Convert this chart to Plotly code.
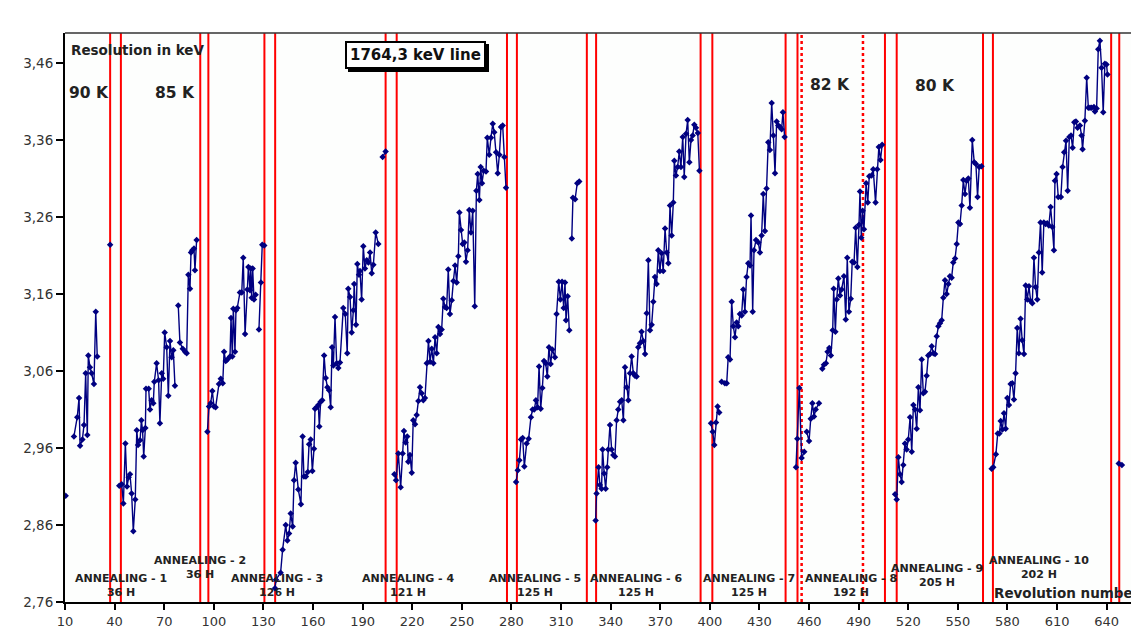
import plotly.graph_objects as go

# ---------------- data (revolution number, resolution in keV) ----------------
rev0 = [10.4, None, 15.4, 17.4, 18.5, 19.1, 20.5, 21.5, 22.5, 23.5, 24.1, 25.1, 26.1, 27.5, 28.6, 29.5, None, 37.3]
res0 = [2.898, None, 2.975, 3.0, 3.025, 2.963, 2.971, 2.99, 3.057, 2.977, 3.08, 3.065, 3.057, 3.043, 3.137, 3.079, None, 3.224]

rev1 = [42.8, 44.3, 45.3, 46.5, 47.5, 48.5, 49.3, 50.3, 51.3, 52.5, 53.4, 54.2, 55.4, 56.2, 56.9, 57.6, 58.6, 59.0,
        60.6, 61.4, 62.4, 63.4, 64.0, 65.4, 66.6, 67.4, 68.5, 69.4, 70.3, 71.5, 72.5, 73.5, 74.5, 75.5, 76.5, None,
        78.5, 79.5, 81.2, 82.6, 83.6, 84.6, 85.6, 86.2, 87.0, 88.0, 88.6, 89.6]
res1 = [2.911, 2.913, 2.888, 2.966, 2.91, 2.922, 2.926, 2.901, 2.852, 2.893, 2.983, 2.964, 2.97, 2.996, 2.983, 2.949,
        2.986, 3.037, 3.037, 3.01, 3.022, 3.018, 3.046, 3.07, 3.048, 2.992, 3.057, 3.05, 3.11, 3.091, 3.028, 3.099,
        3.078, 3.087, 3.041, None, 3.145, 3.097, 3.089, 3.085, 3.083, 3.185, 3.167, 3.214, 3.217, 3.219, 3.191, 3.23]

rev2 = [96.1, 97.1, 98.1, 99.1, 100.1, 101.1, 103.1, 104.2, 105.4, 106.2, 107.2, 108.2, 109.8, 110.4, 111.2, 111.8,
        112.8, 113.4, 114.2, 115.8, 116.9, 117.8, 118.9, 120.3, 120.9, 121.9, 122.3, 122.9, 123.5, 124.3, 125.3, None,
        127.3, 128.5, 129.3, 130.5]
res2 = [2.981, 3.014, 3.018, 3.034, 3.014, 3.013, 3.043, 3.05, 3.044, 3.085, 3.073, 3.075, 3.079, 3.129, 3.079, 3.141,
        3.085, 3.139, 3.142, 3.162, 3.162, 3.207, 3.108, 3.166, 3.195, 3.165, 3.193, 3.155, 3.193, 3.153, 3.159, None,
        3.114, 3.175, 3.224, 3.223]

rev3 = [137.0, 137.6, 140.4, 141.6, 143.5, 144.5, 145.5, 146.5, 147.7, 148.5, 149.5, 151.1, 152.7, 153.7, 154.5,
        155.7, 156.8, 157.6, 158.6, 159.6, 160.6, 161.2, 162.2, 163.2, 163.8, 164.6, 165.6, 166.7, 167.7, 168.7, 169.7,
        170.7, 171.5, 172.3, 173.3, 174.3, 175.3, 176.3, 178.3, 179.5, 180.7, 181.3, 182.4, 183.4, 184.4, 184.9, 186.0,
        186.8, 187.8, 188.4, 189.4, 190.4, 191.4, 192.5, 193.5, 194.5, 195.5, 196.5, 197.9, 199.5, None, 202.1, 203.9]
res3 = [2.778, 2.789, 2.798, 2.828, 2.86, 2.84, 2.849, 2.875, 2.858, 2.918, 2.941, 2.906, 2.887, 2.975, 2.923, 2.923,
        2.929, 2.965, 2.971, 2.93, 2.959, 3.011, 3.013, 3.016, 2.988, 3.02, 3.022, 3.08, 3.051, 3.039, 3.035, 3.013,
        3.091, 3.067, 3.13, 3.07, 3.064, 3.071, 3.142, 3.134, 3.083, 3.167, 3.156, 3.11, 3.139, 3.173, 3.12, 3.199,
        3.185, 3.19, 3.153, 3.222, 3.193, 3.204, 3.201, 3.214, 3.187, 3.198, 3.24, 3.225, None, 3.338, 3.345]

rev4 = [209.2, 210.2, 211.6, 213.0, 214.2, 215.0, 216.0, 217.0, 217.6, 218.6, 219.7, 220.6, 221.7, 222.7, 223.7,
        224.7, 225.7, 226.7, 227.7, 228.8, 229.8, 230.8, 231.8, 232.8, 233.8, 234.8, 235.8, 236.8, 237.8, 238.8, 239.8,
        240.8, 241.8, 242.8, 243.9, 244.9, 245.9, 246.9, 247.9, 248.5, 249.5, 250.5, 251.5, 252.5, 253.5, 254.5, 255.5,
        256.6, 257.8, 258.8, 259.6, 260.6, 261.4, 262.2, 263.2, 264.6, 265.4, 266.6, 267.6, 268.7, 269.6, 270.7, 271.7,
        272.7, 273.7, 274.7, 275.7, 276.7]
res4 = [2.926, 2.918, 2.953, 2.909, 2.953, 2.982, 2.967, 2.975, 2.942, 2.951, 2.928, 2.996, 2.991, 3.003, 3.021,
        3.039, 3.031, 3.022, 3.025, 3.07, 3.099, 3.072, 3.089, 3.07, 3.104, 3.083, 3.117, 3.108, 3.114, 3.154, 3.143,
        3.142, 3.192, 3.134, 3.152, 3.177, 3.197, 3.175, 3.209, 3.266, 3.243, 3.225, 3.227, 3.202, 3.217, 3.269, 3.24,
        3.268, 3.144, 3.294, 3.316, 3.282, 3.325, 3.304, 3.32, 3.319, 3.363, 3.341, 3.363, 3.381, 3.37, 3.344, 3.317,
        3.341, 3.377, 3.379, 3.338, 3.298]

rev5 = [282.8, 283.8, 284.8, 285.8, 286.8, 287.8, 289.2, 290.4, 291.8, 292.8, 293.8, 294.8, 295.8, 296.7, 297.7,
        298.7, 299.7, 300.7, 301.7, 302.7, 303.7, 304.7, 306.3, 307.3, 308.6, 309.6, 310.6, 311.6, 312.4, 313.0, 314.0,
        315.0, None, 316.5, 317.2, 318.5, 319.8, 321.0]
res5 = [2.916, 2.931, 2.944, 2.971, 2.973, 2.936, 2.966, 2.972, 3.0, 3.01, 3.01, 3.022, 3.013, 3.066, 3.011, 3.038,
        3.073, 3.07, 3.053, 3.091, 3.069, 3.088, 3.078, 3.134, 3.176, 3.153, 3.176, 3.142, 3.175, 3.126, 3.157, 3.113,
        None, 3.232, 3.285, 3.283, 3.304, 3.306]

rev6 = [330.9, 331.5, 332.7, 333.5, 334.5, 335.1, 336.1, 337.0, 337.9, 338.5, 339.6, 340.6, 341.6, 342.6, 343.6,
        344.6, 345.7, 346.7, 347.7, 348.7, 349.7, 350.7, 351.7, 352.7, 353.7, 354.7, 355.7, 356.7, 357.7, 358.7, 359.7,
        360.8, 361.8, 362.8, 363.8, 364.8, 365.8, 366.8, 367.8, 368.8, 369.8, 370.8, 371.8, 372.9, 373.9, 374.9, 375.9,
        376.9, 377.9, 378.5, 379.5, 380.5, 381.5, 382.5, 383.6, 384.5, 385.6, 386.6, 387.6, 388.6, 389.6, 390.6, 391.6,
        392.7, 393.7]
res6 = [2.866, 2.901, 2.935, 2.912, 2.907, 2.958, 2.927, 2.907, 2.935, 2.958, 2.99, 2.958, 2.951, 2.949, 2.996, 3.01,
        3.02, 3.022, 2.996, 3.065, 3.039, 3.022, 3.057, 3.079, 3.057, 3.054, 3.053, 3.091, 3.096, 3.111, 3.099, 3.082,
        3.135, 3.204, 3.113, 3.12, 3.15, 3.182, 3.173, 3.217, 3.19, 3.213, 3.19, 3.245, 3.214, 3.2, 3.275, 3.236, 3.279,
        3.333, 3.314, 3.325, 3.345, 3.325, 3.364, 3.312, 3.368, 3.386, 3.331, 3.36, 3.366, 3.38, 3.376, 3.369, 3.32]

rev7 = [400.7, 401.7, 402.7, 403.7, 404.7, 405.7, None, 407.1, 409.1, 410.2, 411.1, 412.2, 413.2, 414.2, 415.2,
        416.2, 417.2, 418.2, 419.2, 420.2, 421.2, 422.2, 423.2, 424.3, 424.9, 425.9, 426.7, 427.9, 429.3, 430.3, 431.3,
        432.3, 433.3, 434.3, 435.3, 436.3, 437.4, 438.4, 439.4, 440.4, 441.4, 442.4, 443.4, 444.2, 445.2]
res7 = [2.992, 2.981, 2.964, 2.993, 3.014, 3.006, None, 3.046, 3.044, 3.044, 3.078, 3.075, 3.15, 3.118, 3.104, 3.123,
        3.118, 3.134, 3.132, 3.166, 3.137, 3.182, 3.2, 3.197, 3.262, 3.137, 3.217, 3.23, 3.227, 3.214, 3.236, 3.29,
        3.242, 3.297, 3.357, 3.347, 3.408, 3.366, 3.317, 3.384, 3.379, 3.377, 3.374, 3.396, 3.364]

rev8 = [452.1, 452.9, 454.1, 455.5, 457.1, None, 458.6, 460.0, 461.0, 462.0, 463.0, 464.0, 466.0, None, 468.0, 469.0,
        470.2, 471.2, 472.2, 473.2, 474.3, 474.9, 475.9, 476.7, 477.7, 478.7, 479.7, 481.1, 482.2, 483.1, 484.1, 485.2,
        486.1, 487.2, 488.2, 489.2, 490.2, 490.8, 491.6, 492.4, 493.2, 494.5, 495.5, 496.4, 497.8, 498.8, 500.2, 501.2,
        502.2, 503.2, 504.2]
res8 = [2.935, 2.972, 3.038, 2.947, 2.955, None, 2.981, 2.969, 2.998, 3.018, 3.001, 3.01, 3.018, None, 3.063, 3.068,
        3.07, 3.085, 3.09, 3.08, 3.113, 3.167, 3.111, 3.153, 3.18, 3.158, 3.166, 3.183, 3.127, 3.207, 3.137, 3.154,
        3.202, 3.201, 3.246, 3.195, 3.25, 3.293, 3.233, 3.268, 3.244, 3.304, 3.279, 3.313, 3.314, 3.322, 3.279, 3.322,
        3.351, 3.334, 3.354]

rev9 = [512.0, 513.0, 514.0, 515.0, 516.0, 517.0, 518.0, 519.0, 520.0, 521.1, 522.1, 523.1, 524.1, 525.1, 526.1,
        527.1, 528.1, 529.1, 530.1, 531.1, 532.1, 533.1, 534.2, 535.2, 536.2, 537.2, 538.2, 539.2, 540.2, 541.2, 542.2,
        543.2, 544.2, 545.2, 546.2, 547.2, 548.3, 549.3, 550.3, 551.3, 552.3, 553.3, 554.3, 555.3, 556.3, 557.3, 558.7,
        559.9, 560.9, 561.9, 562.9, 564.3]
res9 = [2.9, 2.893, 2.948, 2.926, 2.916, 2.938, 2.966, 2.958, 2.971, 3.0, 2.955, 3.016, 3.01, 2.985, 3.039, 3.009,
        3.075, 3.031, 3.033, 3.054, 3.08, 3.082, 3.092, 3.083, 3.082, 3.105, 3.118, 3.122, 3.126, 3.155, 3.178, 3.16,
        3.173, 3.183, 3.181, 3.201, 3.206, 3.225, 3.253, 3.251, 3.275, 3.308, 3.29, 3.307, 3.31, 3.272, 3.36, 3.331,
        3.329, 3.286, 3.325, 3.326]

rev10 = [570.4, 571.4, 573.0, 574.1, 575.1, 575.9, 576.9, 577.9, 578.9, 579.9, 580.9, 581.9, 582.9, 583.9, 584.9,
         585.9, 586.9, 587.9, 588.9, 590.0, 591.0, 592.0, 593.0, 594.0, 595.0, 596.0, 597.0, 598.0, 599.0, 600.0,
         601.0, 602.0, 603.0, 604.0, 605.0, 606.1, 607.1, 608.1, 608.7, 609.7, 610.7, 612.3, 613.3, 614.3, 615.4,
         616.4, 617.4, 618.4, 619.4, 620.4, 621.4, 622.4, 623.8, 624.8, 625.4, 626.8, 627.9, 628.9, 629.9, 630.9,
         632.3, 632.9, 633.9, 634.9, 635.9, 636.9, 637.9, 638.9, 639.9, 640.5, None, 647.3, 649.2]
res10 = [2.933, 2.935, 2.952, 2.979, 2.979, 2.995, 2.984, 3.005, 2.985, 3.025, 3.016, 3.043, 3.044, 3.023, 3.057,
         3.116, 3.083, 3.128, 3.1, 3.082, 3.171, 3.153, 3.17, 3.151, 3.148, 3.207, 3.169, 3.153, 3.214, 3.253, 3.188,
         3.253, 3.251, 3.252, 3.249, 3.273, 3.247, 3.217, 3.307, 3.316, 3.286, 3.286, 3.325, 3.344, 3.359, 3.294,
         3.364, 3.366, 3.35, 3.383, 3.384, 3.376, 3.379, 3.366, 3.348, 3.385, 3.441, 3.402, 3.402, 3.402, 3.403,
         3.397, 3.401, 3.478, 3.489, 3.454, 3.396, 3.459, 3.458, 3.445, None, 2.94, 2.938]

# annealing periods (revolution numbers of the red boundary lines)
anneal_start = [37.3, 91.8, 130.6, 203.9, 277.3, 325.6, 394.4, 445.8, 505.9, 565.2, 642.7]
anneal_end = [43.8, 96.7, 137.1, 210.6, 283.3, 331.2, 401.5, 453.0, 513.0, 571.2, 647.6]
temp_change = [455.5, 492.6]

anneal_names = ["ANNEALING - 1", "ANNEALING - 2", "ANNEALING - 3", "ANNEALING - 4", "ANNEALING - 5",
                "ANNEALING - 6", "ANNEALING - 7", "ANNEALING - 8", "ANNEALING - 9", "ANNEALING - 10"]
anneal_hours = ["36 H", "36 H", "126 H", "121 H", "125 H", "125 H", "125 H", "192 H", "205 H", "202 H"]

temp_labels = ["90 K", "85 K", "82 K", "80 K"]

x_ticks = list(range(10, 641, 30))
y_ticks = [2.76, 2.86, 2.96, 3.06, 3.16, 3.26, 3.36, 3.46]

# ---------------- build ----------------
cycles_rev = [rev0, rev1, rev2, rev3, rev4, rev5, rev6, rev7, rev8, rev9, rev10]
cycles_res = [res0, res1, res2, res3, res4, res5, res6, res7, res8, res9, res10]
xs, ys = [], []
for r, v in zip(cycles_rev, cycles_res):
    for a, b in zip(r, v):
        xs.append(a)
        ys.append(b)
    xs.append(None)
    ys.append(None)

FONT = "DejaVu Sans"
NAVY = "#000080"

fig = go.Figure()
fig.add_trace(go.Scatter(
    x=xs, y=ys, mode="lines+markers", connectgaps=False,
    line=dict(color=NAVY, width=1.4),
    marker=dict(symbol="diamond", size=5, color=NAVY),
    showlegend=False, hoverinfo="x+y",
))

shapes = []
for xv in anneal_start + anneal_end:
    shapes.append(dict(type="line", xref="x", yref="paper", x0=xv, x1=xv, y0=0, y1=1,
                       line=dict(color="#ff0000", width=2), layer="below"))
for xv in temp_change:
    shapes.append(dict(type="line", xref="x", yref="paper", x0=xv, x1=xv, y0=0, y1=1,
                       line=dict(color="#ff0000", width=2.5, dash="dot"), layer="below"))
# top frame line
shapes.append(dict(type="line", xref="paper", yref="paper", x0=0, x1=1, y0=1, y1=1,
                   line=dict(color="#333333", width=1.5)))

annotations = []
# annealing labels
label_pos = [(43.9, 2.7808), (91.6, 2.8047), (138.2, 2.7808), (218.0, 2.7808), (294.2, 2.7808),
             (355.9, 2.7808), (423.7, 2.7808), (485.4, 2.7808), (537.4, 2.795), (599.1, 2.8047)]
for (lx, ly), name, hrs in zip(label_pos, anneal_names, anneal_hours):
    annotations.append(dict(x=lx, y=ly, xref="x", yref="y", text=f"<b>{name}<br>{hrs}</b>",
                            showarrow=False, xanchor="center", yanchor="middle", align="center",
                            font=dict(family=FONT, size=11, color="#222222")))
# temperature labels
temp_pos = [(11.2, 3.4215), (63.2, 3.4215), (459.2, 3.432), (522.6, 3.430)]
for (tx, ty), t in zip(temp_pos, temp_labels):
    annotations.append(dict(x=tx, y=ty, xref="x", yref="y", text=f"<b>{t}</b>", showarrow=False,
                            xanchor="left", yanchor="middle",
                            font=dict(family=FONT, size=15.5, color="#222222")))
annotations.append(dict(x=12.4, y=3.477, xref="x", yref="y", text="<b>Resolution in keV</b>",
                        showarrow=False, xanchor="left", yanchor="middle",
                        font=dict(family=FONT, size=13.5, color="#222222")))
annotations.append(dict(x=570.6, y=2.7717, xref="x", yref="y", text="<b>Revolution number</b>",
                        showarrow=False, xanchor="left", yanchor="middle",
                        font=dict(family=FONT, size=13.5, color="#222222")))
# boxed title with shadow
for shift, bg, fc in [(3, "#000000", "#000000"), (0, "#ffffff", "#111111")]:
    annotations.append(dict(x=221.7, y=3.471, xref="x", yref="y", text="<b>1764,3 keV line</b>",
                            showarrow=False, xanchor="center", yanchor="middle",
                            xshift=shift, yshift=-shift, bgcolor=bg, bordercolor="#000000",
                            borderwidth=2, borderpad=3,
                            font=dict(family=FONT, size=15, color=fc)))

fig.update_layout(
    width=1131, height=632,
    margin=dict(l=65, r=0, t=33, b=30),
    paper_bgcolor="#ffffff", plot_bgcolor="#fdfefd",
    separators=",.",
    shapes=shapes, annotations=annotations,
    showlegend=False,
    xaxis=dict(range=[10, 654.7], tickvals=x_ticks, showgrid=False, zeroline=False,
               showline=True, linecolor="#000000", linewidth=2,
               ticks="outside", ticklen=6, tickwidth=1.5, tickcolor="#000000",
               tickfont=dict(family=FONT, size=13, color="#333333")),
    yaxis=dict(range=[2.76, 3.499], tickvals=y_ticks, tickformat=".2f", showgrid=False, zeroline=False,
               showline=True, linecolor="#000000", linewidth=2,
               ticks="outside", ticklen=7, tickwidth=1.5, tickcolor="#000000",
               tickfont=dict(family=FONT, size=13.5, color="#333333")),
)

fig.write_html("out.html", config={"displayModeBar": False})
